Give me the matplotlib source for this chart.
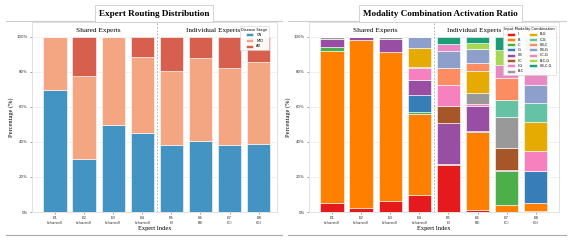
import matplotlib
matplotlib.use("Agg")
import matplotlib.pyplot as plt
from matplotlib.lines import Line2D
import numpy as np

# ---------------- data ----------------
experts = ["E1\n(shared)", "E2\n(shared)", "E3\n(shared)", "E4\n(shared)",
           "E5\n(I)", "E6\n(B)", "E7\n(C)", "E8\n(G)"]

stages = ["CN", "MID", "AD"]
cn = [69.7, 30.3, 49.7, 45.1, 38.5, 40.6, 38.5, 38.9]
mid = [30.3, 47.4, 50.3, 43.5, 41.9, 47.4, 43.6, 46.8]
ad = [0.0, 22.3, 0.0, 11.4, 19.6, 12.0, 17.9, 14.3]

combos = ["I", "B", "C", "G", "I,B", "I,C", "I,G", "B,C",
          "B,G", "C,G", "I,B,C", "I,B,G", "I,C,G", "B,C,G", "I,B,C,G"]
# rows: experts E1..E8, columns follow `combos`
combo_ratio = [
    [5.0, 86.8, 2.2, 0.0, 5.0, 0.0, 0.0, 1.0, 0.0, 0.0, 0.0, 0.0, 0.0, 0.0, 0.0],
    [2.0, 96.3, 0.0, 0.0, 1.4, 0.0, 0.0, 0.3, 0.0, 0.0, 0.0, 0.0, 0.0, 0.0, 0.0],
    [6.1, 85.2, 0.0, 0.0, 7.4, 0.0, 0.0, 1.3, 0.0, 0.0, 0.0, 0.0, 0.0, 0.0, 0.0],
    [9.7, 46.3, 1.3, 9.6, 8.5, 0.0, 6.8, 0.5, 11.0, 0.0, 0.0, 6.3, 0.0, 0.0, 0.0],
    [26.9, 0.6, 0.0, 0.0, 23.2, 9.9, 12.0, 0.0, 0.0, 0.0, 9.5, 10.1, 3.8, 0.0, 4.0],
    [1.3, 44.2, 0.0, 1.0, 14.1, 0.0, 1.1, 6.1, 12.9, 0.0, 4.3, 8.1, 0.0, 3.3, 3.6],
    [0.0, 4.0, 19.4, 0.0, 0.6, 12.4, 0.0, 18.1, 0.0, 9.5, 12.4, 0.0, 7.6, 8.6, 7.4],
    [0.3, 4.7, 0.0, 18.4, 0.0, 0.0, 11.6, 0.0, 16.6, 10.5, 0.0, 10.5, 11.9, 8.0, 7.5],
]

# ---------------- style ----------------
stage_colors = ["#4393c3", "#f4a582", "#d6604d"]
combo_colors = ["#e41a1c", "#ff7f00", "#4daf4a", "#377eb8", "#984ea3", "#a65628",
                "#f781bf", "#999999", "#e6ab02", "#66c2a5", "#fc8d62", "#8da0cb",
                "#e78ac3", "#a6d854", "#1b9e77"]
SERIF = ["Liberation Serif", "DejaVu Serif"]

W, H = 568, 241
fig = plt.figure(figsize=(W / 100, H / 100), dpi=100)

def fx(px):
    return px / W

def fy(py):
    return 1 - py / H

ax1 = fig.add_axes([fx(32), fy(212), fx(277 - 32), (212 - 22) / H])
ax2 = fig.add_axes([fx(309), fy(212), fx(559 - 309), (212 - 22) / H])

x = np.arange(len(experts))

def style_axes(ax, xlim):
    ax.set_xlim(*xlim)
    ax.set_ylim(0, 108.5)
    ax.set_yticks([0, 20, 40, 60, 80, 100])
    ax.set_yticklabels(["0%", "20%", "40%", "60%", "80%", "100%"])
    ax.set_xticks(x)
    ax.set_xticklabels(experts)
    ax.tick_params(axis="both", labelsize=2.8, length=1.5, width=0.4,
                   color="#555555", pad=1.5, labelcolor="#333333")
    ax.grid(axis="y", color="#ebebeb", linewidth=0.5)
    ax.set_axisbelow(True)
    for s in ax.spines.values():
        s.set_color("#dddddd")
        s.set_linewidth(0.6)
    ax.axvline(3.5, color="#bbbbbb", linestyle=(0, (2, 1.5)), linewidth=0.7)
    ax.set_xlabel("Expert Index", family=SERIF, fontsize=4.6, labelpad=1)
    ax.set_ylabel("Percentage (%)", family=SERIF, fontsize=4.6, labelpad=2)

# ---- left: disease stage ----
bottom = np.zeros(len(experts))
for name, vals, col in zip(stages, [cn, mid, ad], stage_colors):
    ax1.bar(x, vals, 0.8, bottom=bottom, color=col, edgecolor="white",
            linewidth=0.4, label=name)
    bottom += np.array(vals)
style_axes(ax1, (-0.79, 7.63))
ax1.text(1.5, 103.5, "Shared Experts", family=SERIF, fontsize=5.2,
         ha="center", va="center")
ax1.text(5.45, 103.5, "Individual Experts", family=SERIF, fontsize=5.2,
         ha="center", va="center")
leg1 = ax1.legend(title="Disease Stage", loc="upper right",
                  bbox_to_anchor=(0.976, 0.99), fontsize=2.6, title_fontsize=2.6,
                  frameon=True, framealpha=0.95, edgecolor="#cccccc",
                  handlelength=2.2, handleheight=0.9, borderpad=0.5,
                  labelspacing=0.45, handletextpad=0.8)
leg1.get_frame().set_linewidth(0.4)

# ---- right: modality combination ----
data = np.array(combo_ratio)
bottom = np.zeros(len(experts))
for j, (name, col) in enumerate(zip(combos, combo_colors)):
    ax2.bar(x, data[:, j], 0.8, bottom=bottom, color=col, edgecolor="white",
            linewidth=0.4, label=name)
    bottom += data[:, j]
style_axes(ax2, (-0.79, 7.8))
ax2.text(1.5, 103.5, "Shared Experts", family=SERIF, fontsize=5.2,
         ha="center", va="center")
ax2.text(4.87, 103.5, "Individual Experts", family=SERIF, fontsize=5.2,
         ha="center", va="center")
leg2 = ax2.legend(title="Input Modality Combination", loc="upper right",
                  bbox_to_anchor=(0.996, 0.99), ncol=2, fontsize=2.6,
                  title_fontsize=2.6, frameon=True, framealpha=0.95,
                  edgecolor="#cccccc", handlelength=2.2, handleheight=0.9,
                  borderpad=0.4, labelspacing=0.35, handletextpad=0.8,
                  columnspacing=1.5)
leg2.get_frame().set_linewidth(0.4)

# ---- panel decorations: rules and boxed titles ----
for x0, x1 in [(6, 282), (288, 566)]:
    fig.add_artist(Line2D([fx(x0), fx(x1)], [fy(20.5), fy(20.5)],
                          color="#cccccc", linewidth=0.8))
    fig.add_artist(Line2D([fx(x0), fx(x1)], [fy(235), fy(235)],
                          color="#aaaaaa", linewidth=0.8))

fig.text(fx(154), fy(13.5), "Expert Routing Distribution", family=SERIF,
         fontweight="bold", fontsize=6.6, ha="center", va="center",
         bbox=dict(boxstyle="square,pad=0.45", facecolor="white",
                   edgecolor="#cccccc", linewidth=0.6))
fig.text(fx(440), fy(13.5), "Modality Combination Activation Ratio", family=SERIF,
         fontweight="bold", fontsize=6.6, ha="center", va="center",
         bbox=dict(boxstyle="square,pad=0.45", facecolor="white",
                   edgecolor="#cccccc", linewidth=0.6))

fig.savefig("out.png", dpi=100)
